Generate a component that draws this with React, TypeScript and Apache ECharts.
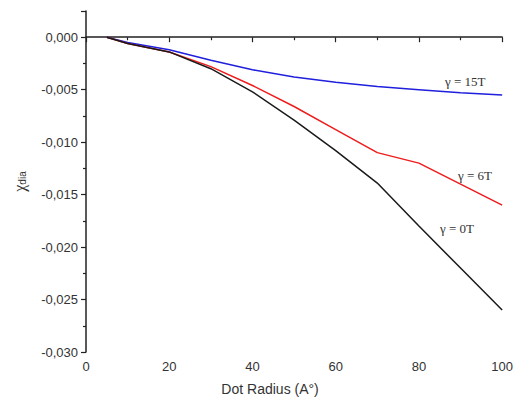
import React, { useEffect, useRef } from "react";
import * as echarts from "echarts";

const radius = [5, 10, 20, 30, 40, 50, 60, 70, 80, 90, 100];
const chi0T = [0, -0.0006, -0.0014, -0.003, -0.0052, -0.0079, -0.0108, -0.0139, -0.018, -0.022, -0.026];
const chi6T = [0, -0.0006, -0.0014, -0.0028, -0.0046, -0.0066, -0.0088, -0.011, -0.012, -0.014, -0.016];
const chi15T = [0, -0.0005, -0.0012, -0.0022, -0.0031, -0.0038, -0.0043, -0.0047, -0.005, -0.0053, -0.0055];
const seriesNames = ["γ = 0T", "γ = 6T", "γ = 15T"];
const colors = ["#1a1a1a", "#ee1c1c", "#1f1fdd"];

export default function App() {
  const ref = useRef<HTMLDivElement>(null);
  useEffect(() => {
    const chart = echarts.init(ref.current!, null, { renderer: "svg" });
    const all = [chi0T, chi6T, chi15T];
    const axisLine = { show: true, lineStyle: { color: "#222", width: 1.5 } };
    chart.setOption({
      animation: false,
      backgroundColor: "#fff",
      grid: { left: 86, right: 10, top: 11, bottom: 49 },
      xAxis: {
        type: "value",
        min: 0,
        max: 100,
        interval: 20,
        axisLine,
        axisTick: { show: true, inside: false, length: 5, lineStyle: { color: "#222", width: 1.2 } },
        minorTick: { show: true, splitNumber: 2, length: 3, lineStyle: { color: "#222", width: 1.2 } },
        splitLine: { show: false },
        axisLabel: { color: "#333", fontFamily: "Liberation Sans", fontSize: 13, margin: 8 },
        name: "Dot Radius (A°)",
        nameLocation: "middle",
        nameGap: 30,
        nameTextStyle: { color: "#333", fontFamily: "Liberation Sans", fontSize: 14, padding: [0, 48, 0, 0] },
      },
      yAxis: {
        type: "value",
        min: -0.03,
        max: 0.0025,
        interval: 0.005,
        axisLine,
        axisTick: { show: true, inside: false, length: 5, lineStyle: { color: "#222", width: 1.2 } },
        minorTick: { show: true, splitNumber: 2, length: 3, lineStyle: { color: "#222", width: 1.2 } },
        splitLine: { show: false },
        axisLabel: {
          color: "#333",
          fontFamily: "Liberation Sans",
          fontSize: 13,
          margin: 8,
          showMaxLabel: false,
          formatter: (v: number) => (v > 0.001 ? "" : v.toFixed(3).replace(".", ",").replace("-0,000", "0,000")),
        },
        name: "{c|χ}{s|dia}",
        nameLocation: "middle",
        nameGap: 59,
        nameRotate: 90,
        nameTextStyle: {
          rich: {
            c: { fontFamily: "Liberation Serif", fontSize: 16, color: "#333" },
            s: { fontFamily: "Liberation Sans", fontSize: 10, color: "#333", verticalAlign: "bottom", padding: [6, 0, 0, 0] },
          },
        },
      },
      series: all.map((d, i) => ({
        type: "line",
        name: seriesNames[i],
        data: radius.map((r, j) => [r, d[j]]),
        showSymbol: false,
        lineStyle: { color: colors[i], width: 1.5 },
        z: 3 - i,
      })),
      graphic: [
        { type: "text", left: 445, top: 75, style: { text: seriesNames[2], font: "13px 'Liberation Serif'", fill: "#333" } },
        { type: "text", left: 458, top: 169, style: { text: seriesNames[1], font: "13px 'Liberation Serif'", fill: "#333" } },
        { type: "text", left: 440, top: 222, style: { text: seriesNames[0], font: "13px 'Liberation Serif'", fill: "#333" } },
      ],
    });
    return () => chart.dispose();
  }, []);
  return <div ref={ref} style={{ width: 516, height: 401, position: "absolute", left: 0, top: 0 }} />;
}
